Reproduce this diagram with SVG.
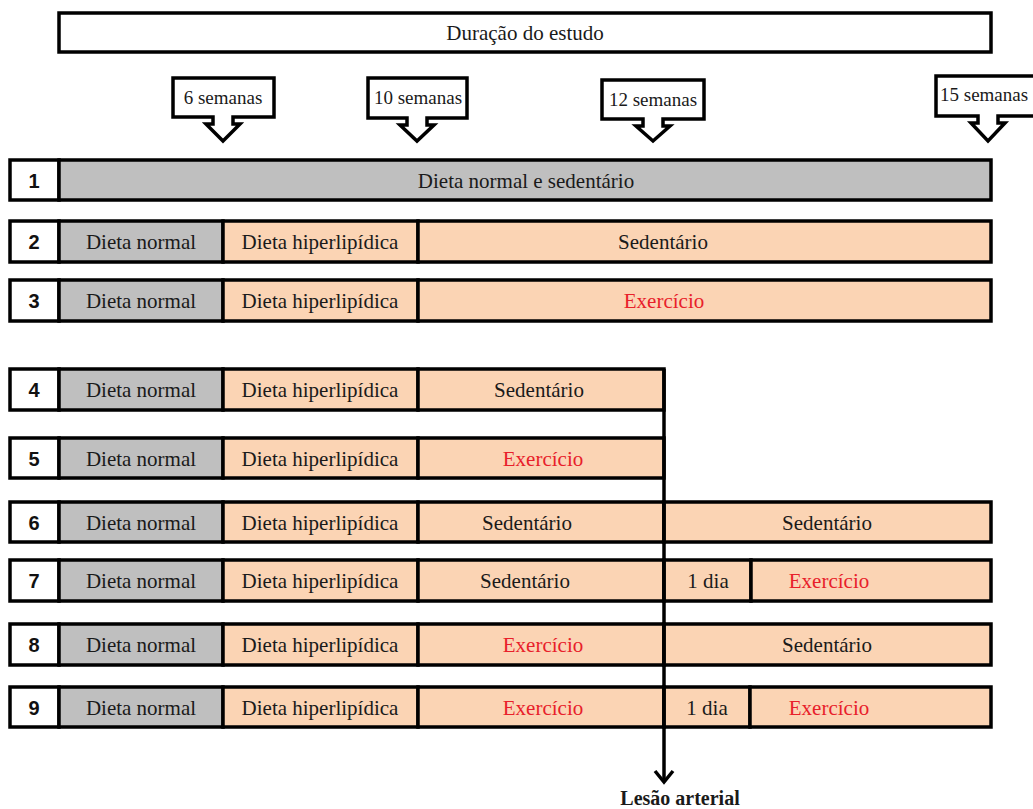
<svg xmlns="http://www.w3.org/2000/svg" width="1033" height="809" viewBox="0 0 1033 809">
<defs>
<style>
.bg{fill:#ffffff}
.box{stroke:#000;stroke-width:3.5}
.w{fill:#ffffff}
.g{fill:#bfbfbf}
.p{fill:#fbd4b4}
.t{font-family:"Liberation Serif","Times New Roman",serif;font-size:21px;fill:#1a1a1a;text-anchor:middle}
.r{fill:#e8202a}
.c{font-family:"Liberation Serif","Times New Roman",serif;font-size:19px;fill:#1a1a1a;text-anchor:middle}
.n{font-family:"Liberation Sans",Arial,sans-serif;font-size:20px;font-weight:bold;fill:#111;text-anchor:middle}
.call{fill:#fff;stroke:#000;stroke-width:3.5;stroke-linejoin:miter}
.conn{fill:none;stroke:#000;stroke-width:3.5}
</style>
</defs>
<rect width="1033" height="809" class="bg"/>

<g id="duracao">
<rect x="59" y="13" width="932" height="39" class="box w"/>
<text x="525" y="40" class="t">Duração do estudo</text>
</g>

<g id="c6">
<path class="call" d="M173,78 H274 V117 H233 V124 H240 L223,141 L206,124 H213 V117 H173 Z"/>
<text x="223" y="104" class="c">6 semanas</text>
</g>
<g id="c10">
<path class="call" d="M368,78 H467 V118 H427 V125 H434 L417,141 L400,125 H407 V118 H368 Z"/>
<text x="418" y="104" class="c">10 semanas</text>
</g>
<g id="c12">
<path class="call" d="M602,80 H704 V119 H663 V126 H670 L653,141 L636,126 H643 V119 H602 Z"/>
<text x="653" y="106" class="c">12 semanas</text>
</g>
<g id="c15">
<path class="call" d="M936,76 H1045 V116 H998 V123 H1005 L988,141 L971,123 H978 V116 H936 Z"/>
<text x="940" y="101" class="c" style="text-anchor:start">15 semanas</text>
</g>

<g id="row1">
<rect x="10" y="160" width="49" height="40" class="box w"/>
<rect x="59" y="160" width="932" height="40" class="box g"/>
<text x="34" y="188" class="n">1</text>
<text x="526" y="188" class="t">Dieta normal e sedentário</text>
</g>

<g id="row2">
<rect x="10" y="221" width="49" height="41" class="box w"/>
<rect x="59" y="221" width="164" height="41" class="box g"/>
<rect x="223" y="221" width="195" height="41" class="box p"/>
<rect x="418" y="221" width="573" height="41" class="box p"/>
<text x="34" y="249" class="n">2</text>
<text x="141" y="249" class="t">Dieta normal</text>
<text x="320" y="249" class="t">Dieta hiperlipídica</text>
<text x="663" y="249" class="t">Sedentário</text>
</g>

<g id="row3">
<rect x="10" y="280" width="49" height="41" class="box w"/>
<rect x="59" y="280" width="164" height="41" class="box g"/>
<rect x="223" y="280" width="195" height="41" class="box p"/>
<rect x="418" y="280" width="573" height="41" class="box p"/>
<text x="34" y="308" class="n">3</text>
<text x="141" y="308" class="t">Dieta normal</text>
<text x="320" y="308" class="t">Dieta hiperlipídica</text>
<text x="664" y="308" class="t r">Exercício</text>
</g>

<g id="row4">
<rect x="10" y="369" width="49" height="41" class="box w"/>
<rect x="59" y="369" width="164" height="41" class="box g"/>
<rect x="223" y="369" width="195" height="41" class="box p"/>
<rect x="418" y="369" width="246" height="41" class="box p"/>
<text x="34" y="397" class="n">4</text>
<text x="141" y="397" class="t">Dieta normal</text>
<text x="320" y="397" class="t">Dieta hiperlipídica</text>
<text x="539" y="397" class="t">Sedentário</text>
</g>

<g id="row5">
<rect x="10" y="438" width="49" height="40" class="box w"/>
<rect x="59" y="438" width="164" height="40" class="box g"/>
<rect x="223" y="438" width="195" height="40" class="box p"/>
<rect x="418" y="438" width="246" height="40" class="box p"/>
<text x="34" y="466" class="n">5</text>
<text x="141" y="466" class="t">Dieta normal</text>
<text x="320" y="466" class="t">Dieta hiperlipídica</text>
<text x="543" y="466" class="t r">Exercício</text>
</g>

<g id="row6">
<rect x="10" y="502" width="49" height="40" class="box w"/>
<rect x="59" y="502" width="164" height="40" class="box g"/>
<rect x="223" y="502" width="195" height="40" class="box p"/>
<rect x="418" y="502" width="246" height="40" class="box p"/>
<rect x="664" y="502" width="327" height="40" class="box p"/>
<text x="34" y="530" class="n">6</text>
<text x="141" y="530" class="t">Dieta normal</text>
<text x="320" y="530" class="t">Dieta hiperlipídica</text>
<text x="527" y="530" class="t">Sedentário</text>
<text x="827" y="530" class="t">Sedentário</text>
</g>

<g id="row7">
<rect x="10" y="560" width="49" height="41" class="box w"/>
<rect x="59" y="560" width="164" height="41" class="box g"/>
<rect x="223" y="560" width="195" height="41" class="box p"/>
<rect x="418" y="560" width="246" height="41" class="box p"/>
<rect x="664" y="560" width="87" height="41" class="box p"/>
<rect x="751" y="560" width="240" height="41" class="box p"/>
<text x="34" y="588" class="n">7</text>
<text x="141" y="588" class="t">Dieta normal</text>
<text x="320" y="588" class="t">Dieta hiperlipídica</text>
<text x="525" y="588" class="t">Sedentário</text>
<text x="708" y="588" class="t">1 dia</text>
<text x="829" y="588" class="t r">Exercício</text>
</g>

<g id="row8">
<rect x="10" y="624" width="49" height="41" class="box w"/>
<rect x="59" y="624" width="164" height="41" class="box g"/>
<rect x="223" y="624" width="195" height="41" class="box p"/>
<rect x="418" y="624" width="246" height="41" class="box p"/>
<rect x="664" y="624" width="327" height="41" class="box p"/>
<text x="34" y="652" class="n">8</text>
<text x="141" y="652" class="t">Dieta normal</text>
<text x="320" y="652" class="t">Dieta hiperlipídica</text>
<text x="543" y="652" class="t r">Exercício</text>
<text x="827" y="652" class="t">Sedentário</text>
</g>

<g id="row9">
<rect x="10" y="687" width="49" height="40" class="box w"/>
<rect x="59" y="687" width="164" height="40" class="box g"/>
<rect x="223" y="687" width="195" height="40" class="box p"/>
<rect x="418" y="687" width="246" height="40" class="box p"/>
<rect x="664" y="687" width="86" height="40" class="box p"/>
<rect x="750" y="687" width="241" height="40" class="box p"/>
<text x="34" y="715" class="n">9</text>
<text x="141" y="715" class="t">Dieta normal</text>
<text x="320" y="715" class="t">Dieta hiperlipídica</text>
<text x="543" y="715" class="t r">Exercício</text>
<text x="707" y="715" class="t">1 dia</text>
<text x="829" y="715" class="t r">Exercício</text>
</g>

<g id="connectors">
<line x1="664" y1="369" x2="664" y2="781" class="conn"/>
<path d="M655,771 L664,782 L673,771" class="conn" stroke-linejoin="miter"/>
</g>

<g id="lesao">
<text x="680" y="805" class="c" style="font-weight:bold;font-size:20px">Lesão arterial</text>
</g>
</svg>
